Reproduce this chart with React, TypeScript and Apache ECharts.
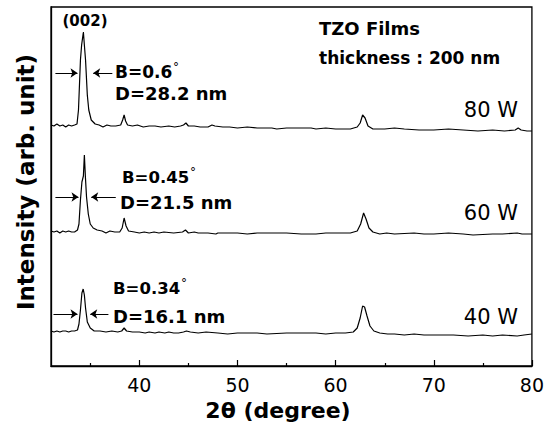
import React, { useEffect, useRef } from "react";
import * as echarts from "echarts";

// XRD patterns of TZO films sputtered at three RF powers: [2θ (deg), intensity (arb., offset per curve)]
const pattern80W: [number, number][] = [
  [31.0, 241], [31.3, 240], [31.6, 242], [31.9, 240], [32.2, 241], [32.5, 239], [32.8, 241], [33.1, 240],
  [33.4, 241], [33.65, 242],
  [33.8, 256], [34.0, 306], [34.12, 321], [34.3, 334], [34.4, 321], [34.52, 306], [34.7, 271], [34.85, 256],
  [35.1, 246], [35.5, 242], [35.9, 241], [36.3, 239], [36.7, 241], [37.1, 240], [37.6, 240], [38.1, 241],
  [38.3, 246], [38.45, 251], [38.6, 245], [38.8, 241], [39.3, 240], [39.8, 241], [40.4, 239], [41.0, 240],
  [41.6, 240], [42.2, 239], [43.0, 240], [43.6, 239], [44.2, 240], [44.5, 241], [44.75, 243], [45.0, 240],
  [45.6, 240], [46.2, 239], [47.0, 239], [47.4, 241], [47.7, 240], [48.5, 239], [49.2, 239], [50, 238],
  [51, 239], [52, 238], [53.5, 238], [54, 237], [55, 238], [56, 238], [57.5, 238], [58, 237], [59, 238],
  [60, 237], [61.5, 237], [62.2, 239], [62.5, 243], [62.75, 251], [63.0, 248], [63.3, 240], [63.8, 237],
  [65, 237], [66, 238], [67, 237], [68.5, 236], [70, 236], [71.5, 237], [73, 236], [74.5, 235], [76, 236],
  [77.2, 235], [78.3, 236], [78.6, 238], [78.9, 236], [79.5, 235], [80, 235],
];

const pattern60W: [number, number][] = [
  [31, 135], [31.3, 134], [31.6, 135], [31.9, 133], [32.2, 135], [32.5, 134], [32.8, 135], [33.1, 134],
  [33.4, 134], [33.7, 136], [33.85, 142],
  [34.0, 166], [34.15, 184], [34.3, 190], [34.4, 211], [34.5, 190], [34.62, 169], [34.8, 152], [35.0, 142],
  [35.3, 138], [35.7, 136], [36.2, 135], [36.6, 133], [37.0, 135], [37.5, 134], [38.0, 134], [38.25, 138],
  [38.45, 148], [38.65, 140], [38.9, 135], [39.5, 134], [40.0, 133], [40.5, 134], [41.0, 133], [41.5, 134],
  [42.0, 133], [42.5, 134], [43.5, 133], [44.4, 134], [44.7, 136], [45.0, 133], [45.6, 134], [46, 133],
  [47, 133], [47.8, 132], [48, 133], [49, 133], [50, 133], [51, 132], [52, 133], [53.5, 133], [55, 133],
  [56.5, 132], [58, 132], [59, 133], [60, 133], [61.5, 133], [62.2, 135], [62.55, 142], [62.85, 153],
  [63.1, 147], [63.4, 138], [63.8, 134], [64.5, 132], [65.2, 133], [66, 132], [68, 133], [69, 132],
  [70, 132], [71.5, 133], [73, 132], [74, 131], [76, 132], [77, 132], [78.5, 133], [79, 132], [80, 132],
];

const pattern40W: [number, number][] = [
  [31, 35], [31.3, 34], [31.6, 35], [31.9, 34], [32.2, 35], [32.5, 35], [32.8, 34], [33.1, 35], [33.4, 35],
  [33.7, 36], [33.85, 42], [34.0, 56],
  [34.15, 73], [34.28, 77], [34.4, 71], [34.52, 58], [34.7, 44], [35.0, 38], [35.4, 35], [36, 35],
  [36.6, 34], [37.2, 35], [37.8, 34], [38.2, 35], [38.45, 38], [38.7, 35], [39.3, 34], [40, 34], [40.6, 33],
  [41, 34], [41.6, 33], [42, 34], [42.6, 33], [43, 34], [43.5, 33], [44, 33], [44.5, 34], [44.8, 35],
  [45.2, 34], [46, 33], [46.8, 34], [48, 33], [49, 32], [50, 33], [51, 33], [52, 33], [53, 32], [55, 33],
  [56, 33], [58, 33], [59, 32], [60, 33], [61, 33], [61.8, 34], [62.2, 38], [62.5, 48], [62.75, 60],
  [62.95, 59], [63.2, 50], [63.5, 40], [63.9, 35], [64.5, 33], [65.3, 32], [66, 32], [67, 31], [68, 32],
  [69, 31], [70, 31], [71, 31], [72, 31], [73.5, 30], [75, 31], [76, 30], [77, 31], [78.5, 30], [79.2, 31],
  [80, 32],
];

const powerLabels = ["80 W", "60 W", "40 W"];
const fwhm = ["0.6", "0.45", "0.34"];
const grainSize = ["28.2", "21.5", "16.1"];
const majorTicks = [40, 50, 60, 70, 80];
const minorTicks = [35, 45, 55, 65, 75];

// FWHM arrow markers for each curve: [left start, left tip, right tip, right start, level]
const fwhmArrows: number[][] = [
  [31.45, 33.7, 35.3, 37.25, 293],
  [31.45, 33.8, 35.1, 37.6, 169],
  [31.25, 33.7, 35.0, 36.85, 52],
];

const FONT = "DejaVu Sans";
const BLACK = "#000";

function arrowMarks(a: number[]) {
  const [l0, l1, r1, r0, y] = a;
  return {
    silent: true,
    symbol: ["none", "arrow"],
    symbolSize: 7,
    lineStyle: { color: BLACK, width: 1, type: "solid" as const },
    label: { show: false },
    emphasis: { disabled: true },
    data: [
      [{ coord: [l0, y] }, { coord: [l1, y] }],
      [{ coord: [r0, y] }, { coord: [r1, y] }],
    ],
  };
}

function txt(
  x: number,
  y: number,
  text: string,
  size: number,
  weight: string,
  align: string = "left",
  extra: Record<string, unknown> = {}
) {
  return {
    type: "text",
    x,
    y,
    z: 10,
    ...extra,
    style: {
      text,
      fill: BLACK,
      font: `${weight} ${size}px "${FONT}"`,
      textAlign: align,
      textVerticalAlign: "middle",
    },
  };
}

export default function App() {
  const ref = useRef<HTMLDivElement>(null);

  useEffect(() => {
    if (!ref.current) return;
    const chart = echarts.init(ref.current, null, { renderer: "svg" });
    const patterns = [pattern80W, pattern60W, pattern40W];

    const grid = { left: 51, right: 15, top: 7, bottom: 61 };

    const option: echarts.EChartsOption = {
      animation: false,
      backgroundColor: "#fff",
      grid: [
        { ...grid, show: true, borderColor: BLACK, borderWidth: 1.3, backgroundColor: "transparent" },
        { ...grid },
      ],
      xAxis: [
        {
          type: "value",
          gridIndex: 0,
          min: 31,
          max: 80,
          axisLine: { show: true, lineStyle: { color: BLACK, width: 1.3 } },
          axisTick: { show: true, inside: true, length: 6, customValues: majorTicks, lineStyle: { color: BLACK, width: 1.2 } },
          axisLabel: { show: true, customValues: majorTicks, color: BLACK, fontFamily: FONT, fontSize: 19, margin: 9 },
          splitLine: { show: false },
        },
        {
          type: "value",
          gridIndex: 1,
          min: 31,
          max: 80,
          axisLine: { show: false },
          axisTick: { show: true, inside: true, length: 3, customValues: minorTicks, lineStyle: { color: BLACK, width: 1.2 } },
          axisLabel: { show: false },
          splitLine: { show: false },
        },
      ],
      yAxis: [
        {
          type: "value",
          gridIndex: 0,
          min: 0,
          max: 359,
          axisLine: { show: true, lineStyle: { color: BLACK, width: 1.3 } },
          axisTick: { show: false },
          axisLabel: { show: false },
          splitLine: { show: false },
        },
        {
          type: "value",
          gridIndex: 1,
          min: 0,
          max: 359,
          show: false,
        },
      ],
      series: patterns.map((data, i) => ({
        type: "line" as const,
        name: powerLabels[i],
        xAxisIndex: 0,
        yAxisIndex: 0,
        data,
        showSymbol: false,
        symbol: "none",
        lineStyle: { color: BLACK, width: 1.2 },
        silent: true,
        markLine: arrowMarks(fwhmArrows[i]),
      })),
      graphic: [
        txt(85, 21, "(002)", 15, "bold", "center"),
        // 80 W
        txt(115, 72, `B=${fwhm[0]}`, 17, "bold"),
        txt(173, 67, "°", 12, "normal"),
        txt(115, 93, `D=${grainSize[0]} nm`, 18, "bold"),
        // 60 W
        txt(122, 177, `B=${fwhm[1]}`, 16.5, "bold"),
        txt(190, 172, "°", 12, "normal"),
        txt(120, 202, `D=${grainSize[1]} nm`, 18, "bold"),
        // 40 W
        txt(113, 288, `B=${fwhm[2]}`, 16.5, "bold"),
        txt(181, 283, "°", 12, "normal"),
        txt(113, 316, `D=${grainSize[2]} nm`, 18, "bold"),
        // sample info
        txt(319, 28, "TZO Films", 18, "bold"),
        txt(319, 58, "thickness : 200 nm", 17, "bold"),
        // power labels
        txt(518, 110, powerLabels[0], 21, "normal", "right"),
        txt(518, 213, powerLabels[1], 21, "normal", "right"),
        txt(518, 317, powerLabels[2], 21, "normal", "right"),
        // axis titles
        txt(278, 410, "2θ (degree)", 22, "bold", "center"),
        txt(26, 182, "Intensity (arb. unit)", 23, "bold", "center", { rotation: Math.PI / 2 }),
      ] as any,
    };

    chart.setOption(option);
    return () => chart.dispose();
  }, []);

  return (
    <div
      ref={ref}
      style={{ position: "absolute", left: 0, top: 0, width: 547, height: 427, background: "#fff" }}
    />
  );
}
